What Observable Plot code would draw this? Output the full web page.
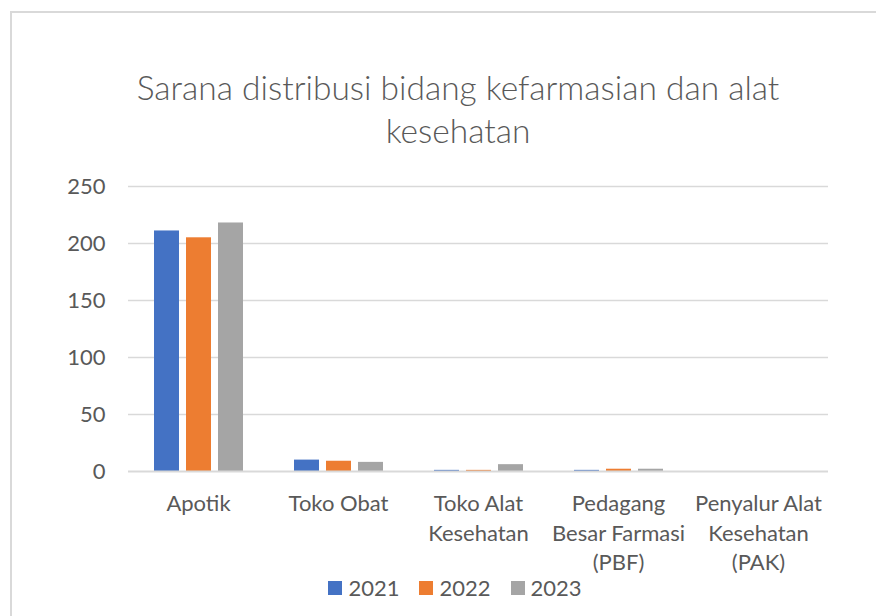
<!DOCTYPE html>
<html>
<head>
<meta charset="utf-8">
<script src="https://cdn.jsdelivr.net/npm/d3@7"></script>
<script src="https://cdn.jsdelivr.net/npm/@observablehq/plot@0.6"></script>
<style>
  html, body { margin: 0; padding: 0; background: #fff; overflow: hidden; }
  body { width: 876px; height: 616px; position: relative; font-family: Lato, sans-serif; color: #595959; }
  #frame { position: absolute; left: 10px; top: 11px; width: 900px; height: 700px; border: 2px solid #d9d9d9; box-sizing: border-box; }
  #title { position: absolute; left: 58px; width: 800px; top: 66px; text-align: center; font-size: 33.5px; line-height: 43px; font-weight: 300; color: #595959; }
  #chart { position: absolute; left: 0; top: 150px; }
  #legend { position: absolute; top: 574px; left: 2px; width: 906px; display: flex; justify-content: center; gap: 20px; font-size: 22px; color: #595959; }
  #legend .item { display: flex; align-items: center; gap: 6px; }
  #legend .sw { width: 14px; height: 14px; display: inline-block; }
</style>
</head>
<body>
<div id="frame"></div>
<div id="title">Sarana distribusi bidang kefarmasian dan alat<br>kesehatan</div>
<div id="chart"></div>
<div id="legend"></div>
<script>
const categories = ["Apotik", "Toko Obat", "Toko Alat Kesehatan", "Pedagang Besar Farmasi (PBF)", "Penyalur Alat Kesehatan (PAK)"];
const categoryLabels = ["Apotik", "Toko Obat", "Toko Alat\nKesehatan", "Pedagang\nBesar Farmasi\n(PBF)", "Penyalur Alat\nKesehatan\n(PAK)"];
const years = ["2021", "2022", "2023"];
const values2021 = [211, 10, 1, 1, 0];
const values2022 = [205, 9, 1, 2, 0];
const values2023 = [218, 8, 6, 2, 0];
const yTicks = [0, 50, 100, 150, 200, 250];
const colors = ["#4472C4", "#ED7D31", "#A5A5A5"];

const series = [values2021, values2022, values2023];
const data = [];
categories.forEach((c, i) => {
  years.forEach((y, j) => data.push({category: c, year: y, value: series[j][i]}));
});
const labelOf = new Map(categories.map((c, i) => [c, categoryLabels[i]]));

const chart = Plot.plot({
  width: 876,
  height: 421,
  marginTop: 36,
  marginBottom: 100,
  marginLeft: 128,
  marginRight: 48,
  style: {fontFamily: "Lato, sans-serif", fontSize: "22px", color: "#595959", background: "transparent", overflow: "visible"},
  fx: {domain: categories, padding: 0, label: null},
  x: {domain: years, paddingInner: 0.234, paddingOuter: 0.8, axis: null},
  y: {domain: [0, 250], label: null},
  color: {domain: years, range: colors},
  marks: [
    Plot.ruleY(yTicks.filter(d => d > 0), {stroke: "#d9d9d9", strokeWidth: 1.5, strokeOpacity: 1}),
    Plot.barY(data, {fx: "category", x: "year", y: "value", fill: "year"}),
    Plot.ruleY([0], {stroke: "#d9d9d9", strokeWidth: 2, strokeOpacity: 1}),
    Plot.axisY({ticks: yTicks, tickSize: 0, tickPadding: 23, label: null, fill: "#595959", fontSize: 22}),
    Plot.axisFx({anchor: "bottom", tickSize: 0, tickPadding: 19, label: null, lineHeight: 1.34, fill: "#595959", fontSize: 22, tickFormat: d => labelOf.get(d)})
  ]
});
document.getElementById("chart").appendChild(chart);

const legend = document.getElementById("legend");
years.forEach((y, j) => {
  const item = document.createElement("div");
  item.className = "item";
  const sw = document.createElement("span");
  sw.className = "sw";
  sw.style.background = colors[j];
  const t = document.createElement("span");
  t.textContent = y;
  item.appendChild(sw);
  item.appendChild(t);
  legend.appendChild(item);
});
</script>
</body>
</html>
